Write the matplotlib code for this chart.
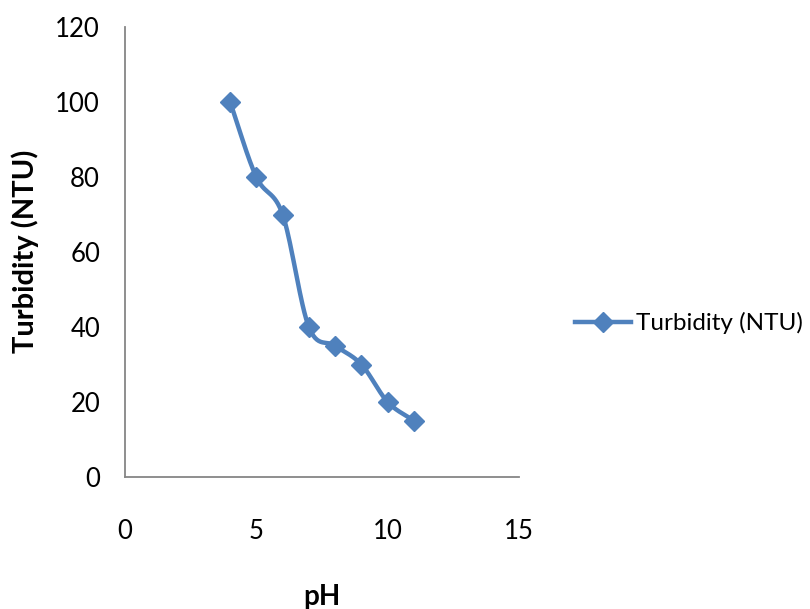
import numpy as np
import matplotlib
matplotlib.use("Agg")
import matplotlib.pyplot as plt
from matplotlib.lines import Line2D

ph = [4, 5, 6, 7, 8, 9, 10, 11]
turbidity = [100, 80, 70, 40, 35, 30, 20, 15]
series_name = "Turbidity (NTU)"
x_ticks = [0, 5, 10, 15]
y_ticks = [0, 20, 40, 60, 80, 100, 120]

plt.rcParams['font.family'] = ['Lato', 'DejaVu Sans']

def catmull_rom(x, y, n=30):
    x = np.asarray(x, float); y = np.asarray(y, float)
    px = np.concatenate([[2*x[0]-x[1]], x, [2*x[-1]-x[-2]]])
    py = np.concatenate([[2*y[0]-y[1]], y, [2*y[-1]-y[-2]]])
    xs, ys = [], []
    t = np.linspace(0, 1, n)
    for i in range(1, len(px)-2):
        for arr, out in ((px, xs), (py, ys)):
            p0, p1, p2, p3 = arr[i-1], arr[i], arr[i+1], arr[i+2]
            seg = 0.5*((2*p1) + (-p0+p2)*t + (2*p0-5*p1+4*p2-p3)*t**2 + (-p0+3*p1-3*p2+p3)*t**3)
            out.extend(seg)
    return np.array(xs), np.array(ys)

color = '#4F81BD'
fig = plt.figure(figsize=(8.1, 6.09), dpi=100)
ax = fig.add_axes([125/810, 1-477/609, 394/810, 450/609])

sx, sy = catmull_rom(ph, turbidity)
ax.plot(sx, sy, color=color, lw=3.2, solid_capstyle='round')
ax.plot(ph, turbidity, linestyle='none', marker='D', ms=10.5, color=color)

ax.set_xlim(0, 15)
ax.set_ylim(0, 120)
ax.set_xticks(x_ticks)
ax.set_yticks(y_ticks)
ax.tick_params(axis='both', length=0, labelsize=18.5, colors='#000000')
ax.tick_params(axis='y', pad=18)
ax.tick_params(axis='x', pad=30)
for s in ['top', 'right']:
    ax.spines[s].set_visible(False)
for s in ['left', 'bottom']:
    ax.spines[s].set_color('#868686')
    ax.spines[s].set_linewidth(1.3)

fig.text(322/810, 1-597/609, 'pH', ha='center', va='center', fontsize=20, fontweight='bold')
fig.text(25/810, 1-251/609, 'Turbidity (NTU)', ha='center', va='center', rotation=90,
         fontsize=21, fontweight='bold')

h = Line2D([0], [0], color=color, lw=3.2, marker='D', ms=10.5)
fig.legend([h], [series_name], loc='center left', bbox_to_anchor=(575/810, 1-323/609),
           frameon=False, fontsize=17.5, handlelength=2.3, handletextpad=0.2,
           borderpad=0, borderaxespad=0)

fig.savefig('out.png', dpi=100)
